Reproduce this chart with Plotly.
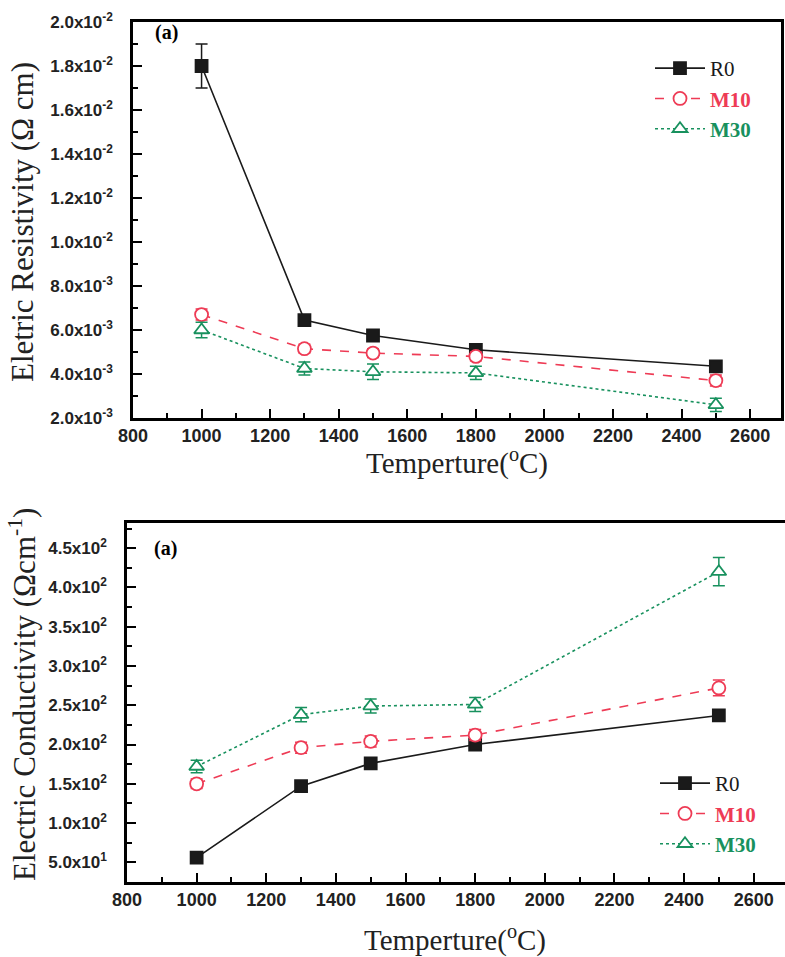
import plotly.graph_objects as go

temps = [1000, 1300, 1500, 1800, 2500]

# Top panel: electric resistivity (ohm cm)
res_R0 = [1.80e-2, 6.45e-3, 5.75e-3, 5.1e-3, 4.35e-3]
res_R0_err = [1.0e-3, 0.15e-3, 0.2e-3, 0.2e-3, 0.2e-3]
res_M10 = [6.7e-3, 5.15e-3, 4.95e-3, 4.8e-3, 3.7e-3]
res_M10_err = [0.25e-3, 0.2e-3, 0.2e-3, 0.2e-3, 0.25e-3]
res_M30 = [6.0e-3, 4.25e-3, 4.1e-3, 4.05e-3, 2.6e-3]
res_M30_err = [0.35e-3, 0.3e-3, 0.35e-3, 0.3e-3, 0.3e-3]

# Bottom panel: electric conductivity (ohm^-1 cm^-1)
con_R0 = [56, 147, 176, 200, 237]
con_R0_err = [4, 4, 4, 4, 5]
con_M10 = [150, 196, 204, 212, 272]
con_M10_err = [6, 7, 7, 7, 10]
con_M30 = [172, 238, 249, 251, 420]
con_M30_err = [8, 9, 9, 9, 18]

res_ticks = [2e-3, 4e-3, 6e-3, 8e-3, 1.0e-2, 1.2e-2, 1.4e-2, 1.6e-2, 1.8e-2, 2.0e-2]
res_ticktext = ["2.0x10<sup>-3</sup>", "4.0x10<sup>-3</sup>", "6.0x10<sup>-3</sup>", "8.0x10<sup>-3</sup>",
                "1.0x10<sup>-2</sup>", "1.2x10<sup>-2</sup>", "1.4x10<sup>-2</sup>", "1.6x10<sup>-2</sup>",
                "1.8x10<sup>-2</sup>", "2.0x10<sup>-2</sup>"]
con_ticks = [50, 100, 150, 200, 250, 300, 350, 400, 450]
con_ticktext = ["5.0x10<sup>1</sup>", "1.0x10<sup>2</sup>", "1.5x10<sup>2</sup>", "2.0x10<sup>2</sup>",
                "2.5x10<sup>2</sup>", "3.0x10<sup>2</sup>", "3.5x10<sup>2</sup>", "4.0x10<sup>2</sup>",
                "4.5x10<sup>2</sup>"]

BLACK = "#1a1a1a"
RED = "#ee3b55"
GREEN = "#18915e"

W, H = 785, 957
SERIF = "Liberation Serif"
SANS = "Liberation Sans"

fig = go.Figure()

def add_series(x, y, err, color, symbol, dash, xa, ya, legend, label):
    filled = symbol == "square"
    fig.add_trace(go.Scatter(
        x=x, y=y, name=label, mode="lines+markers",
        xaxis=xa, yaxis=ya, legend=legend,
        line=dict(color=color, width=1.6, dash=dash),
        marker=dict(symbol=symbol, size=12 if filled else 13, color=color if filled else "white",
                    line=dict(color=color, width=1.8)),
        error_y=dict(type="data", array=err, color=color, thickness=1.5, width=6),
    ))

lab_R0 = "R0"
lab_M10 = "<b><span style='color:%s'>M10</span></b>" % RED
lab_M30 = "<b><span style='color:%s'>M30</span></b>" % GREEN

add_series(temps, res_R0, res_R0_err, BLACK, "square", "solid", "x", "y", "legend", lab_R0)
add_series(temps, res_M10, res_M10_err, RED, "circle", "dash", "x", "y", "legend", lab_M10)
add_series(temps, res_M30, res_M30_err, GREEN, "triangle-up", "dot", "x", "y", "legend", lab_M30)
add_series(temps, con_R0, con_R0_err, BLACK, "square", "solid", "x2", "y2", "legend2", lab_R0)
add_series(temps, con_M10, con_M10_err, RED, "circle", "dash", "x2", "y2", "legend2", lab_M10)
add_series(temps, con_M30, con_M30_err, GREEN, "triangle-up", "dot", "x2", "y2", "legend2", lab_M30)

xcommon = dict(range=[800, 2690], tick0=800, dtick=200, ticks="inside", ticklen=9, tickwidth=2,
               tickcolor="black", showline=True, linewidth=2.5, linecolor="black", mirror=True,
               showgrid=False, zeroline=False, automargin=False,
               tickfont=dict(family=SANS, size=18, color="#222", weight="bold"),
               minor=dict(ticks="inside", ticklen=5, tickwidth=2, tickcolor="black", dtick=100, tick0=800))
ycommon = dict(ticks="inside", ticklen=9, tickwidth=2, tickcolor="black", showline=True,
               linewidth=2.5, linecolor="black", mirror=True, showgrid=False, zeroline=False,
               automargin=False, ticklabelstandoff=14,
               tickfont=dict(family=SANS, size=17, color="#222", weight="bold"), tickmode="array")

fig.update_layout(
    width=W, height=H,
    margin=dict(l=0, r=0, t=0, b=0, autoexpand=False),
    paper_bgcolor="white", plot_bgcolor="white",
    showlegend=True,
    xaxis=dict(domain=[133 / W, 781 / W], anchor="y", **xcommon),
    yaxis=dict(domain=[1 - 418 / H, 1 - 22 / H], anchor="x", range=[2e-3, 2e-2],
               tickvals=res_ticks, ticktext=res_ticktext,
               minor=dict(ticks="inside", ticklen=5, tickwidth=2, tickcolor="black", dtick=1e-3, tick0=0),
               **ycommon),
    xaxis2=dict(domain=[127 / W, 1.0], anchor="y2", **xcommon),
    yaxis2=dict(domain=[1 - 882 / H, 1 - 523 / H], anchor="x2", range=[25, 482],
                tickvals=con_ticks, ticktext=con_ticktext,
                minor=dict(ticks="inside", ticklen=5, tickwidth=2, tickcolor="black", dtick=25, tick0=0),
                **ycommon),
    legend=dict(x=650 / W, y=1 - 48 / H, xanchor="left", yanchor="top", bgcolor="rgba(0,0,0,0)",
                font=dict(family=SERIF, size=21, color=BLACK), itemwidth=50, tracegroupgap=0),
    legend2=dict(x=655 / W, y=1 - 763 / H, xanchor="left", yanchor="top", bgcolor="rgba(0,0,0,0)",
                 font=dict(family=SERIF, size=21, color=BLACK), itemwidth=50, tracegroupgap=0),
)

annos = [
    dict(text="(a)", x=153 / W, y=1 - 33 / H, xanchor="left", yanchor="middle"),
    dict(text="(a)", x=152 / W, y=1 - 548 / H, xanchor="left", yanchor="middle"),
]
for a in annos:
    fig.add_annotation(xref="paper", yref="paper", showarrow=False,
                       font=dict(family=SERIF, size=20, color="black", weight="bold"), **a)

titles = [
    dict(text="Eletric Resistivity (Ω cm)", x=22 / W, y=1 - 222 / H, textangle=-90, size=31),
    dict(text="Electric Conductivity (Ωcm<sup>-1</sup>)", x=22 / W, y=1 - 695 / H, textangle=-90, size=31),
    dict(text="Temperture(<sup>o</sup>C)", x=457 / W, y=1 - 461 / H, textangle=0, size=29),
    dict(text="Temperture(<sup>o</sup>C)", x=455 / W, y=1 - 938 / H, textangle=0, size=29),
]
for t in titles:
    size = t.pop("size")
    fig.add_annotation(xref="paper", yref="paper", showarrow=False, xanchor="center", yanchor="middle",
                       font=dict(family=SERIF, size=size, color="#222"), **t)

fig.write_html("out.html", config={"displayModeBar": False},
               post_script="document.body.style.margin='0';")
